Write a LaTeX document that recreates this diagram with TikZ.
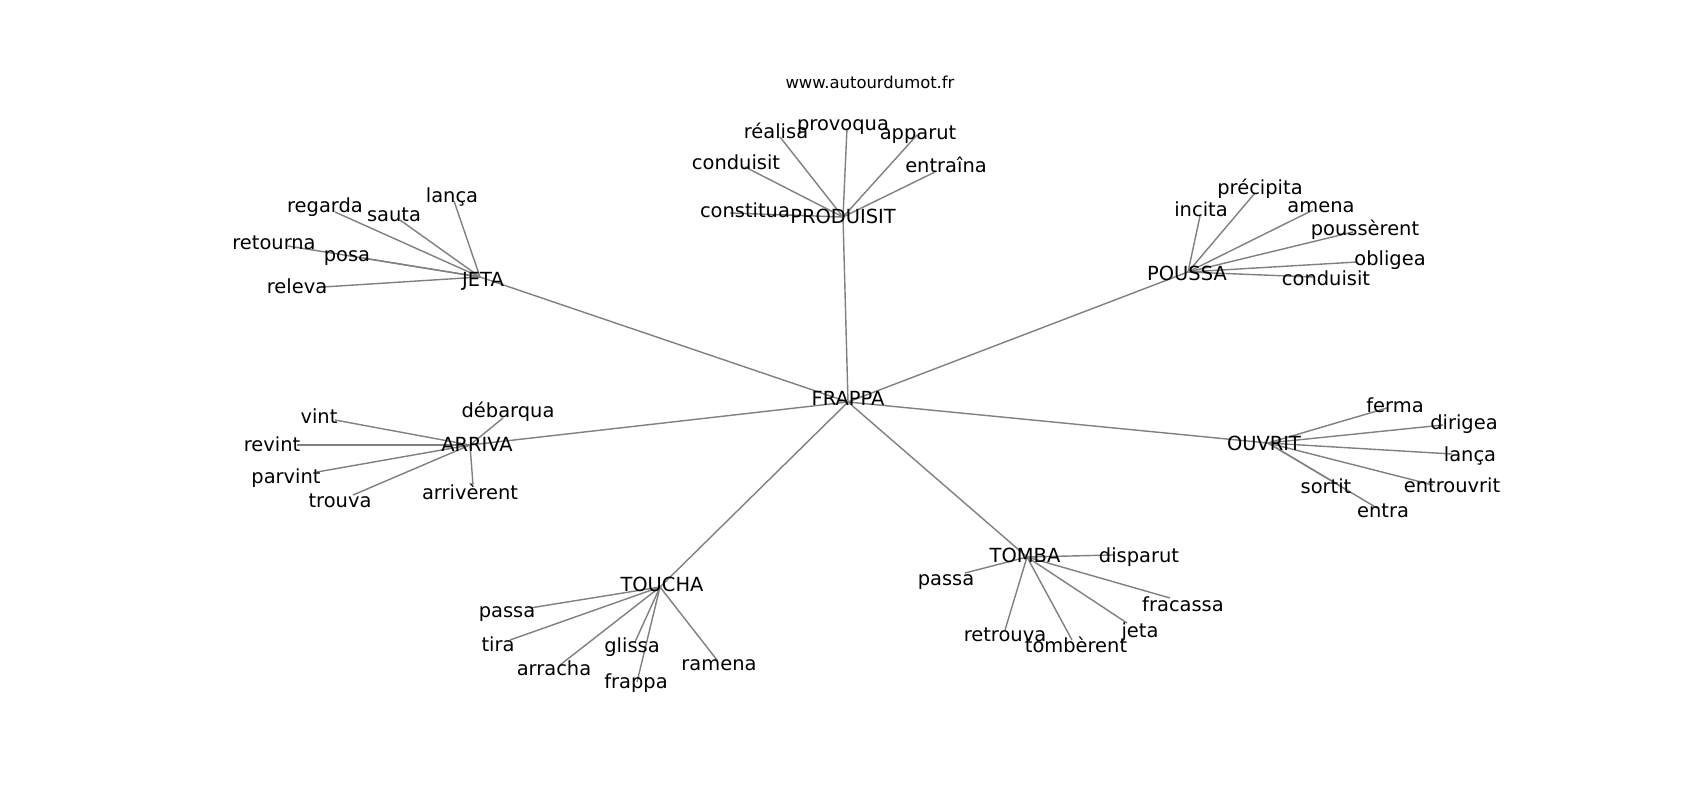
\documentclass[tikz,border=0pt]{standalone}
\usepackage{fontspec}
\setmainfont{DejaVu Sans}
\pgfdeclarelayer{bg}
\pgfsetlayers{bg,main}
\newcommand\wfont{\fontsize{5.53pt}{6.6pt}\selectfont}
\newcommand\ufont{\fontsize{4.67pt}{5.6pt}\selectfont}
\newcommand\vw[4]{\coordinate (#1) at (#2); \node[word] (#1-t) at (#3) {#4};}
\tikzset{
  word/.style={anchor=base, inner sep=0pt, font=\wfont, text=black},
  edge/.style={draw=gray, line width=0.4pt},
}
\begin{document}
\begin{tikzpicture}[x=0.01cm, y=-0.01cm]
\useasboundingbox (0,0) rectangle (1700,800);
\node[word, font=\ufont] (url) at (870,88) {www.autourdumot.fr};
% hubs
\vw{frappa}{848,402}{848,405}{FRAPPA}
\vw{produisit}{843,217}{843,223}{PRODUISIT}
\vw{jeta}{480,277}{483,286}{JETA}
\vw{poussa}{1188,272}{1187,280}{POUSSA}
\vw{arriva}{470,445}{477,451}{ARRIVA}
\vw{ouvrit}{1268,443}{1264,450}{OUVRIT}
\vw{toucha}{660,587}{662,591}{TOUCHA}
\vw{tomba}{1027,557}{1025,562}{TOMBA}
% PRODUISIT
\vw{realisa}{780,137}{776,138}{réalisa}
\vw{provoqua}{847,128}{843,130}{provoqua}
\vw{apparut}{917,135}{918,139}{apparut}
\vw{conduisitA}{745,167}{736,169}{conduisit}
\vw{entraina}{935,172}{946,172}{entraîna}
\vw{constitua}{730,213}{745,217}{constitua}
% JETA
\vw{lancaA}{454,201}{452,202}{lança}
\vw{regarda}{335,212}{325,212}{regarda}
\vw{sauta}{400,220}{394,221}{sauta}
\vw{retourna}{288,246}{274,249}{retourna}
\vw{posa}{363,258}{347,261}{posa}
\vw{releva}{323,287}{297,293}{releva}
% POUSSA
\vw{incita}{1200,216}{1201,216}{incita}
\vw{precipita}{1255,193}{1260,194}{précipita}
\vw{amena}{1313,210}{1321,212}{amena}
\vw{pousserent}{1353,232}{1365,235}{poussèrent}
\vw{obligea}{1357,262}{1390,265}{obligea}
\vw{conduisitB}{1313,277}{1326,285}{conduisit}
% ARRIVA
\vw{debarqua}{503,418}{508,417}{débarqua}
\vw{vint}{335,420}{319,423}{vint}
\vw{revint}{297,445}{272,451}{revint}
\vw{parvint}{317,472}{286,483}{parvint}
\vw{trouva}{353,495}{340,507}{trouva}
\vw{arriverent}{473,485}{470,499}{arrivèrent}
% OUVRIT
\vw{ferma}{1387,408}{1395,412}{ferma}
\vw{dirigea}{1443,425}{1464,429}{dirigea}
\vw{lancaB}{1452,454}{1470,461}{lança}
\vw{entrouvrit}{1433,485}{1452,492}{entrouvrit}
\vw{sortit}{1347,490}{1326,493}{sortit}
\vw{entra}{1377,508}{1383,517}{entra}
% TOUCHA
\vw{passaA}{530,608}{507,617}{passa}
\vw{tira}{510,640}{498,651}{tira}
\vw{arracha}{560,665}{554,675}{arracha}
\vw{glissa}{635,642}{632,652}{glissa}
\vw{frappaB}{637,682}{636,688}{frappa}
\vw{ramena}{717,660}{719,670}{ramena}
% TOMBA
\vw{disparut}{1113,555}{1139,562}{disparut}
\vw{passaB}{965,573}{946,585}{passa}
\vw{fracassa}{1170,598}{1183,611}{fracassa}
\vw{jetaB}{1127,623}{1140,637}{jeta}
\vw{retrouva}{1005,630}{1005,641}{retrouva}
\vw{tomberent}{1072,640}{1076,652}{tombèrent}
\begin{pgfonlayer}{bg}
\fill[white] (0,0) rectangle (1700,800);
\foreach \a/\b in {frappa/produisit, frappa/jeta, frappa/poussa, frappa/arriva,
  frappa/ouvrit, frappa/toucha, frappa/tomba,
  produisit/realisa, produisit/provoqua, produisit/apparut, produisit/conduisitA,
  produisit/entraina, produisit/constitua,
  jeta/lancaA, jeta/regarda, jeta/sauta, jeta/retourna, jeta/posa, jeta/releva,
  poussa/incita, poussa/precipita, poussa/amena, poussa/pousserent, poussa/obligea,
  poussa/conduisitB,
  arriva/debarqua, arriva/vint, arriva/revint, arriva/parvint, arriva/trouva,
  arriva/arriverent,
  ouvrit/ferma, ouvrit/dirigea, ouvrit/lancaB, ouvrit/entrouvrit, ouvrit/sortit,
  ouvrit/entra,
  toucha/passaA, toucha/tira, toucha/arracha, toucha/glissa, toucha/frappaB,
  toucha/ramena,
  tomba/disparut, tomba/passaB, tomba/fracassa, tomba/jetaB, tomba/retrouva,
  tomba/tomberent}
  {\draw[edge] (\a) -- (\b);}
\end{pgfonlayer}
\end{tikzpicture}
\end{document}
